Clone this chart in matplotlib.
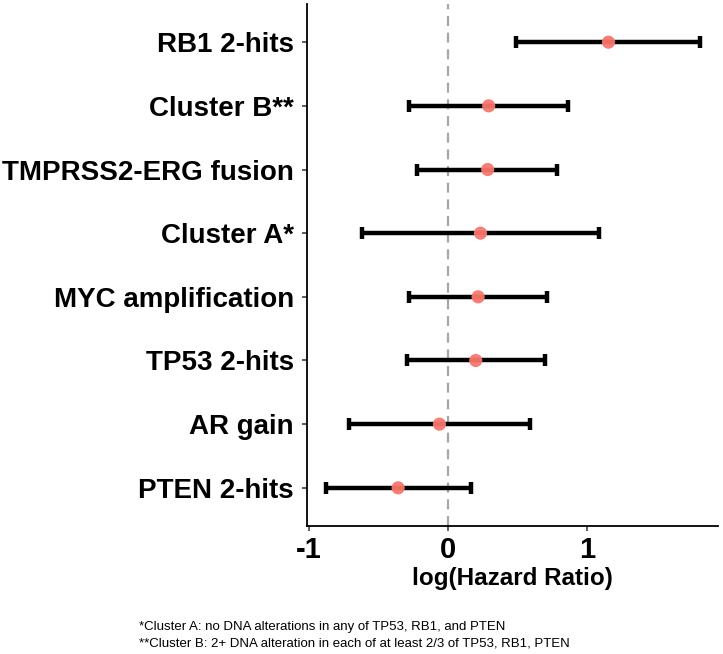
import matplotlib
matplotlib.use("Agg")
import matplotlib.pyplot as plt

# data (bottom to top as drawn)
labels = ["PTEN 2-hits", "AR gain", "TP53 2-hits", "MYC amplification",
          "Cluster A*", "TMPRSS2-ERG fusion", "Cluster B**", "RB1 2-hits"]
log_hr = [-0.359, -0.062, 0.199, 0.216, 0.233, 0.285, 0.292, 1.153]
ci_low = [-0.880, -0.715, -0.294, -0.282, -0.621, -0.222, -0.284, 0.490]
ci_high = [0.168, 0.592, 0.694, 0.711, 1.084, 0.785, 0.864, 1.814]

footnotes = ["*Cluster A: no DNA alterations in any of TP53, RB1, and PTEN",
             "**Cluster B: 2+ DNA alteration in each of at least 2/3 of TP53, RB1, PTEN"]

plt.rcParams['font.family'] = ['Liberation Sans', 'DejaVu Sans']

fig = plt.figure(figsize=(7.23, 6.54), dpi=100)
ax = fig.add_axes([0.4246, 0.1957, 0.993 - 0.4246, 0.9939 - 0.1957])

ypos = list(range(1, len(labels) + 1))

ax.axvline(0, color='#a6a6a6', lw=1.6, ls=(0, (4.5, 3)), zorder=1)

xerr = [[v - lo for v, lo in zip(log_hr, ci_low)],
        [hi - v for v, hi in zip(log_hr, ci_high)]]
ax.errorbar(log_hr, ypos, xerr=xerr, fmt='none', ecolor='black',
            elinewidth=3.2, capsize=4.5, capthick=3.2, zorder=2)
ax.scatter(log_hr, ypos, s=90, color='#F8766D', alpha=0.95,
           edgecolors='none', zorder=3)

ax.set_xlim(-1.014, 1.94)
ax.set_ylim(0.4, 8.6)
ax.set_xticks([-1, 0, 1])
ax.set_xticklabels(['-1', '0', '1'])
ax.set_yticks(ypos)
ax.set_yticklabels(labels)

for lab in ax.get_yticklabels():
    lab.set_fontsize(20)
    lab.set_fontweight('bold')
for lab in ax.get_xticklabels():
    lab.set_fontsize(21)
    lab.set_fontweight('bold')

ax.tick_params(axis='both', direction='out', length=3.5, width=1.1,
               color='#333333', pad=4)
ax.tick_params(axis='y', pad=6)

for side in ['top', 'right']:
    ax.spines[side].set_visible(False)
for side in ['left', 'bottom']:
    ax.spines[side].set_linewidth(1.3)
    ax.spines[side].set_color('black')

ax.set_xlabel('log(Hazard Ratio)', fontsize=17.5, fontweight='bold', labelpad=2)

fig.text(139 / 723, 1 - 627 / 654, footnotes[0], fontsize=9.5, va='center')
fig.text(139 / 723, 1 - 643 / 654, footnotes[1], fontsize=9.5, va='center')

fig.savefig('out.png', dpi=100)
